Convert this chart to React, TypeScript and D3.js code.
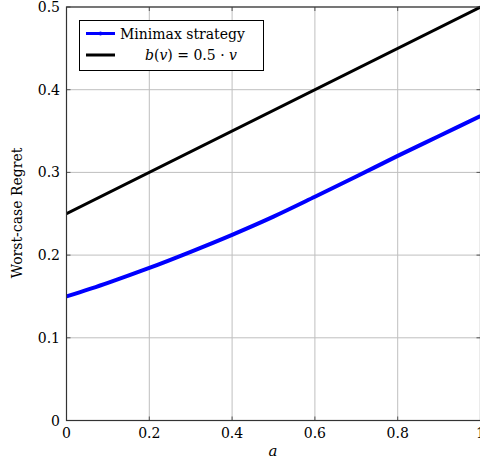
import React from "react";
import * as d3 from "d3";

const aValues = [0, 0.1, 0.2, 0.3, 0.4, 0.5, 0.6, 0.7, 0.8, 0.9, 1.0];
const minimaxRegret = [0.150, 0.1665, 0.1845, 0.204, 0.2245, 0.2465, 0.2705, 0.295, 0.320, 0.344, 0.368];
const baselineA = [0, 1];
const baselineRegret = [0.25, 0.5];
const xTicks = [0, 0.2, 0.4, 0.6, 0.8, 1];
const yTicks = [0, 0.1, 0.2, 0.3, 0.4, 0.5];
const xTickLabels = ["0", "0.2", "0.4", "0.6", "0.8", "1"];
const yTickLabels = ["0", "0.1", "0.2", "0.3", "0.4", "0.5"];

const W = 480, H = 459;
const L = 66.5, R = 480.5, T = 7, B = 420.5;
const FONT = "DejaVu Serif";

export default function App() {
  const x = d3.scaleLinear().domain([0, 1]).range([L, R]);
  const y = d3.scaleLinear().domain([0, 0.5]).range([B, T]);
  const line = d3.line<[number, number]>().x(d => x(d[0])).y(d => y(d[1])).curve(d3.curveCatmullRom);
  const minimaxPts = aValues.map((a, i) => [a, minimaxRegret[i]] as [number, number]);
  const basePts = baselineA.map((a, i) => [a, baselineRegret[i]] as [number, number]);

  return (
    <svg width={W} height={H} style={{ position: "absolute", left: 0, top: 0, background: "#fff", fontFamily: FONT }}>
      <defs>
        <clipPath id="plotclip"><rect x={L} y={T - 2} width={R - L} height={B - T + 4} /></clipPath>
      </defs>
      {xTicks.map((t, i) => (
        <line key={"gx" + i} x1={x(t)} x2={x(t)} y1={T} y2={B} stroke="#bfbfbf" strokeWidth={1} />
      ))}
      {yTicks.map((t, i) => (
        <line key={"gy" + i} x1={L} x2={R} y1={y(t)} y2={y(t)} stroke="#bfbfbf" strokeWidth={1} />
      ))}
      {xTicks.map((t, i) => (
        <g key={"tx" + i}>
          <line x1={x(t)} x2={x(t)} y1={B} y2={B - 4} stroke="#555" strokeWidth={1} />
          <line x1={x(t)} x2={x(t)} y1={T} y2={T + 4} stroke="#555" strokeWidth={1} />
        </g>
      ))}
      {yTicks.map((t, i) => (
        <g key={"ty" + i}>
          <line x1={L} x2={L + 4} y1={y(t)} y2={y(t)} stroke="#555" strokeWidth={1} />
          <line x1={R - 4} x2={R} y1={y(t)} y2={y(t)} stroke="#555" strokeWidth={1} />
        </g>
      ))}
      <g clipPath="url(#plotclip)">
        <path d={line(basePts) || ""} fill="none" stroke="#000" strokeWidth={3} />
        <path d={line(minimaxPts) || ""} fill="none" stroke="#0000ff" strokeWidth={4} />
      </g>
      <rect x={L} y={T} width={R - L} height={B - T} fill="none" stroke="#333" strokeWidth={1.2} />
      {xTicks.map((t, i) => (
        <text key={"lx" + i} x={x(t)} y={438} textAnchor="middle" fontSize={14} fill="#000">{xTickLabels[i]}</text>
      ))}
      {yTicks.map((t, i) => (
        <text key={"ly" + i} x={60} y={y(t) + 5} textAnchor="end" fontSize={14} fill="#000">{yTickLabels[i]}</text>
      ))}
      <text x={273} y={456} textAnchor="middle" fontSize={15} fontStyle="italic">a</text>
      <text transform={`translate(22,${213}) rotate(-90)`} textAnchor="middle" fontSize={14}>Worst-case Regret</text>
      <g>
        <rect x={79.5} y={20.5} width={184} height={50} fill="#fff" stroke="#000" strokeWidth={1} />
        <line x1={86} x2={115} y1={33.5} y2={33.5} stroke="#0000ff" strokeWidth={3} />
        <circle cx={100.5} cy={33.5} r={2} fill="#0000ff" />
        <text x={120} y={38.5} fontSize={14}>Minimax strategy</text>
        <line x1={86} x2={115} y1={55} y2={55} stroke="#000" strokeWidth={3} />
        <text x={191} y={60} textAnchor="middle" fontSize={14}>
          <tspan fontStyle="italic">b</tspan>(<tspan fontStyle="italic">v</tspan>) = 0.5 · <tspan fontStyle="italic">v</tspan>
        </text>
      </g>
    </svg>
  );
}
